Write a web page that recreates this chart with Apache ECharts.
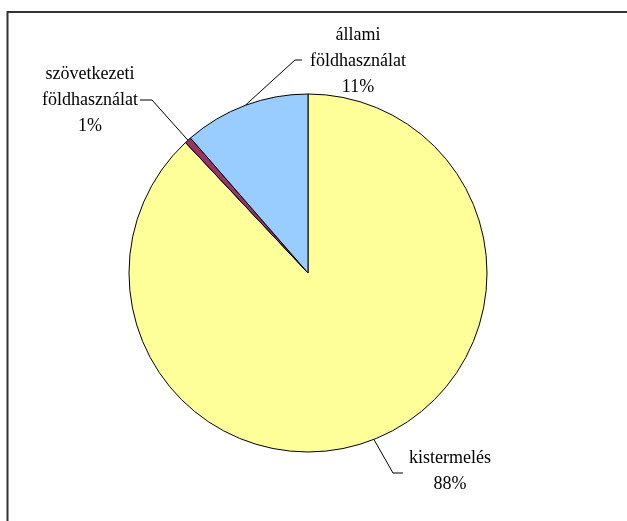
<!DOCTYPE html>
<html>
<head>
<meta charset="utf-8">
<script src="https://cdn.jsdelivr.net/npm/echarts@6/dist/echarts.min.js"></script>
<style>
html,body{margin:0;padding:0;background:#fff;}
#chart{width:627px;height:521px;}
</style>
</head>
<body>
<div id="chart"></div>
<script>
var categories = ['kistermelés', 'szövetkezeti földhasználat', 'állami földhasználat'];
var labelLines = [['kistermelés'], ['szövetkezeti', 'földhasználat'], ['állami', 'földhasználat']];
var values = [88.0, 0.6, 11.4];
var colors = ['#FFFF99', '#993366', '#99CCFF'];

// label placement (layout only)
var labelPos = [
  {x: 450, y: 471, elbow: [393, 473], end: [403, 473]},
  {x: 90, y: 100, elbow: [152, 100], end: [140, 100]},
  {x: 358, y: 61, elbow: [295, 60], end: [302, 60]}
];

var chart = echarts.init(document.getElementById('chart'), null, {renderer: 'canvas'});
var data = categories.map(function (c, i) {
  return {name: c, value: values[i], itemStyle: {color: colors[i]}};
});

chart.setOption({
  animation: false,
  backgroundColor: '#ffffff',
  graphic: [
    {type: 'line', shape: {x1: 7.5, y1: 12, x2: 627, y2: 12}, style: {stroke: '#333', lineWidth: 2}},
    {type: 'line', shape: {x1: 7.5, y1: 11, x2: 7.5, y2: 521}, style: {stroke: '#333', lineWidth: 2}}
  ],
  series: [{
    type: 'pie',
    center: [308, 273],
    radius: 179,
    startAngle: 90,
    clockwise: true,
    data: data,
    itemStyle: {borderColor: '#000', borderWidth: 1},
    emphasis: {disabled: true},
    label: {
      show: true,
      position: 'outside',
      color: '#000',
      fontFamily: '"Liberation Serif", "Times New Roman", serif',
      fontSize: 18,
      lineHeight: 26,
      align: 'center',
      formatter: function (p) {
        return labelLines[p.dataIndex].concat([Math.round(p.percent) + '%']).join('\n');
      }
    },
    labelLine: {show: true, lineStyle: {color: '#000', width: 1}},
    labelLayout: function (params) {
      var lp = labelPos[params.dataIndex];
      var start = params.labelLinePoints ? params.labelLinePoints[0] : lp.elbow;
      return {
        x: lp.x,
        y: lp.y,
        align: 'center',
        verticalAlign: 'middle',
        labelLinePoints: [start, lp.elbow, lp.end]
      };
    }
  }]
});
</script>
</body>
</html>
